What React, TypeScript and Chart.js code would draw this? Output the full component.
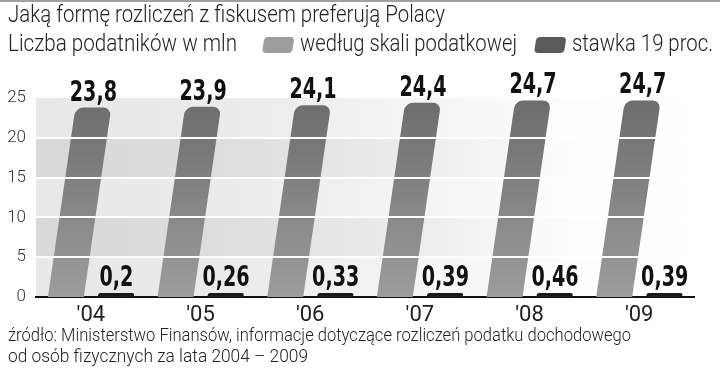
import React, { useEffect, useRef } from 'react';
import { Chart, registerables } from 'chart.js';

Chart.register(...registerables);

const categories = ["'04", "'05", "'06", "'07", "'08", "'09"];
const wedlugSkali = [23.8, 23.9, 24.1, 24.4, 24.7, 24.7];
const stawka19 = [0.2, 0.26, 0.33, 0.39, 0.46, 0.39];
const yTicks = [0, 5, 10, 15, 20, 25];
const seriesLabels = ['według skali podatkowej', 'stawka 19 proc.'];
const titleText = 'Jaką formę rozliczeń z fiskusem preferują Polacy';
const unitText = 'Liczba podatników w mln';
const sourceLines = [
  'źródło: Ministerstwo Finansów, informacje dotyczące rozliczeń podatku dochodowego',
  'od osób fizycznych za lata 2004 – 2009',
];

const TEXT_FONT = 'Roboto, "DejaVu Sans Condensed", sans-serif';
const LABEL_FONT = '"DejaVu Sans Condensed", Roboto, sans-serif';
const SKEW = 0.145;
const fmt = (v: number) => String(v).replace('.', ',');

// draw text condensed horizontally to occupy a given width
function fitText(ctx: CanvasRenderingContext2D, text: string, x: number, y: number, width: number) {
  const w = ctx.measureText(text).width;
  const s = width / w;
  ctx.save();
  ctx.translate(x, y);
  ctx.scale(s, 1);
  ctx.fillText(text, 0, 0);
  ctx.restore();
}

function skewBox(ctx: CanvasRenderingContext2D, x: number, y: number, w: number, h: number, r: number, fill: any) {
  ctx.save();
  ctx.translate(x, y + h);
  ctx.transform(1, 0, -0.15, 1, 0, 0);
  ctx.beginPath();
  ctx.moveTo(r, -h);
  ctx.lineTo(w - r, -h);
  ctx.quadraticCurveTo(w, -h, w, -h + r);
  ctx.lineTo(w, -r);
  ctx.quadraticCurveTo(w, 0, w - r, 0);
  ctx.lineTo(r, 0);
  ctx.quadraticCurveTo(0, 0, 0, -r);
  ctx.lineTo(0, -h + r);
  ctx.quadraticCurveTo(0, -h, r, -h);
  ctx.closePath();
  ctx.fillStyle = fill;
  ctx.fill();
  ctx.restore();
}

const decor = {
  id: 'decor',
  beforeDraw(chart: any) {
    const { ctx, chartArea: a } = chart;
    const y = chart.scales.y;
    ctx.save();
    ctx.fillStyle = '#ffffff';
    ctx.fillRect(0, 0, chart.width, chart.height);
    ctx.fillStyle = '#a0a0a0';
    ctx.fillRect(0, 0, chart.width, 2);
    for (let i = 0; i < yTicks.length - 1; i++) {
      const top = y.getPixelForValue(yTicks[i + 1]);
      const bot = y.getPixelForValue(yTicks[i]);
      const dark = i % 2 === 1;
      const g = ctx.createLinearGradient(a.left, 0, a.right, 0);
      g.addColorStop(0, dark ? '#d8d8d8' : '#e8e8e8');
      g.addColorStop(0.3, dark ? '#dedede' : '#ebebeb');
      g.addColorStop(0.6, dark ? '#eeeeee' : '#f5f5f5');
      g.addColorStop(0.82, '#fdfdfd');
      g.addColorStop(1, '#ffffff');
      ctx.fillStyle = g;
      ctx.fillRect(a.left, top, a.right - a.left, bot - top);
    }
    ctx.restore();
  },
  beforeDatasetDraw(chart: any) {
    const { ctx } = chart;
    const y0 = chart.scales.y.getPixelForValue(0);
    ctx.save();
    ctx.transform(1, 0, -SKEW, 1, SKEW * y0, 0);
  },
  afterDatasetDraw(chart: any) {
    chart.ctx.restore();
  },
  afterDatasetsDraw(chart: any) {
    const { ctx, chartArea: a } = chart;
    const y = chart.scales.y;
    const y0 = y.getPixelForValue(0);
    ctx.save();
    ctx.strokeStyle = '#ffffff';
    ctx.lineWidth = 2;
    yTicks.slice(1, -1).forEach((t) => {
      const py = Math.round(y.getPixelForValue(t));
      ctx.beginPath();
      ctx.moveTo(a.left, py);
      ctx.lineTo(a.right, py);
      ctx.stroke();
    });
    ctx.fillStyle = '#111111';
    ctx.font = `bold 28px ${LABEL_FONT}`;
    ctx.textAlign = 'center';
    ctx.textBaseline = 'alphabetic';
    chart.data.datasets.forEach((ds: any, di: number) => {
      const meta = chart.getDatasetMeta(di);
      meta.data.forEach((bar: any, i: number) => {
        const x = bar.x + SKEW * (y0 - bar.y);
        ctx.save();
        ctx.translate(x, bar.y - 7);
        ctx.scale(0.76, 1);
        ctx.fillText(fmt(ds.data[i]), 0, 0);
        ctx.restore();
      });
    });
    ctx.restore();
  },
  afterDraw(chart: any) {
    const { ctx } = chart;
    ctx.save();
    ctx.fillStyle = '#222222';
    ctx.textBaseline = 'middle';
    ctx.textAlign = 'left';
    ctx.font = `300 24px ${TEXT_FONT}`;
    fitText(ctx, titleText, 8, 16, 437);
    ctx.font = `300 23px ${TEXT_FONT}`;
    fitText(ctx, unitText, 8, 45, 229);
    const g1 = ctx.createLinearGradient(262, 0, 293, 0);
    g1.addColorStop(0, '#9c9c9c');
    g1.addColorStop(1, '#7c7c7c');
    skewBox(ctx, 262, 37, 30, 16, 4, g1);
    const g2 = ctx.createLinearGradient(533, 0, 565, 0);
    g2.addColorStop(0, '#5a5a5a');
    g2.addColorStop(1, '#151515');
    skewBox(ctx, 534, 37, 30, 16, 4, g2);
    ctx.fillStyle = '#222222';
    fitText(ctx, seriesLabels[0], 300, 45, 217);
    fitText(ctx, seriesLabels[1], 572, 45, 141);
    ctx.font = `300 19px ${TEXT_FONT}`;
    fitText(ctx, sourceLines[0], 8, 336, 623);
    fitText(ctx, sourceLines[1], 8, 357, 300);
    ctx.restore();
  },
};

export default function App() {
  const ref = useRef<HTMLCanvasElement>(null);
  useEffect(() => {
    const canvas = ref.current!;
    const chart = new Chart(canvas, {
      type: 'bar',
      data: {
        labels: categories,
        datasets: [
          {
            label: seriesLabels[0],
            data: wedlugSkali,
            backgroundColor: (c: any) => {
              const a = c.chart.chartArea;
              if (!a) return '#888888';
              const g = c.chart.ctx.createLinearGradient(0, a.top, 0, a.bottom);
              g.addColorStop(0, '#6c6c6c');
              g.addColorStop(1, '#9c9c9c');
              return g;
            },
            borderRadius: { topLeft: 8, topRight: 8, bottomLeft: 0, bottomRight: 0 },
            borderSkipped: false,
            clip: false as any,
          },
          {
            label: seriesLabels[1],
            data: stawka19,
            backgroundColor: '#1a1a1a',
            borderRadius: { topLeft: 10, topRight: 10, bottomLeft: 0, bottomRight: 0 },
            borderSkipped: false,
            minBarLength: 4,
            clip: false as any,
          },
        ],
      },
      options: {
        animation: false,
        responsive: false,
        maintainAspectRatio: false,
        devicePixelRatio: 1,
        layout: { padding: { left: 8, top: 98, right: 26, bottom: 41 } },
        datasets: { bar: { categoryPercentage: 0.91, barPercentage: 0.72 } },
        plugins: {
          legend: { display: false },
          title: { display: false },
          tooltip: { enabled: false },
        },
        scales: {
          x: {
            z: 1,
            grid: { display: false, drawTicks: false },
            border: { display: true, color: '#111111', width: 2 },
            ticks: {
              color: '#222222',
              padding: 5,
              font: { family: TEXT_FONT, size: 22 },
            },
            afterFit: (s: any) => { s.height = 30; },
          },
          y: {
            min: 0,
            max: 25,
            afterBuildTicks: (s: any) => { s.ticks = yTicks.map((v) => ({ value: v })); },
            grid: { display: false, drawTicks: false },
            border: { display: false },
            ticks: {
              color: '#333333',
              padding: 10,
              font: { family: TEXT_FONT, size: 17, weight: '300' as any },
            },
            afterFit: (s: any) => { s.width = 28; },
          },
        },
      },
      plugins: [decor],
    });
    return () => chart.destroy();
  }, []);
  return (
    <div style={{ position: 'fixed', left: 0, top: 0, width: 720, height: 368, background: '#fff' }}>
      <canvas ref={ref} width={720} height={368} style={{ width: 720, height: 368, display: 'block' }} />
    </div>
  );
}
